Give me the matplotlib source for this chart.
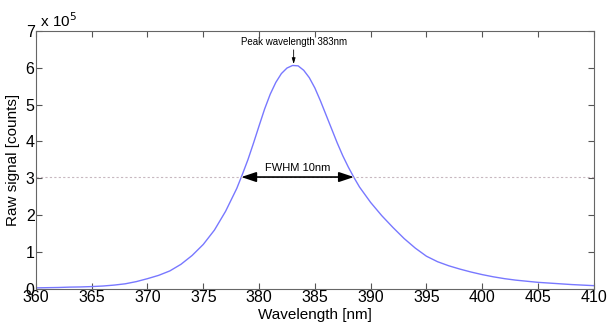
import matplotlib
matplotlib.use("Agg")
import matplotlib.pyplot as plt

plt.rcParams['font.family'] = ['Liberation Sans', 'DejaVu Sans']

wavelength = [360, 361, 362, 363, 364, 365, 366, 367, 368, 369,
              370, 371, 372, 373, 374, 375, 376, 377, 378, 378.5,
              379, 379.5, 380, 380.5, 381, 381.5, 382, 382.5, 383, 383.5,
              384, 384.5, 385, 385.5, 386, 386.5, 387, 387.5, 388, 388.5,
              389, 390, 391, 392, 393, 394, 395, 396, 397, 398, 399,
              400, 401, 402, 403, 404, 405, 406, 407, 408, 409, 410]
signal_e5 = [0.02, 0.025, 0.03, 0.04, 0.045, 0.055, 0.07, 0.095, 0.13, 0.19,
             0.27, 0.36, 0.48, 0.66, 0.90, 1.20, 1.59, 2.10, 2.72, 3.10,
             3.50, 3.95, 4.42, 4.88, 5.28, 5.60, 5.84, 5.99, 6.06, 6.05,
             5.93, 5.73, 5.45, 5.10, 4.72, 4.34, 3.96, 3.61, 3.30, 3.02,
             2.76, 2.34, 1.98, 1.66, 1.36, 1.10, 0.88, 0.73, 0.62, 0.53, 0.45,
             0.38, 0.32, 0.27, 0.23, 0.20, 0.17, 0.15, 0.13, 0.11, 0.095, 0.08]
half_max = 3.03
fwhm_left, fwhm_right = 378.4, 388.5
peak_x, peak_y = 383.1, 6.06
xticks = [360, 365, 370, 375, 380, 385, 390, 395, 400, 405, 410]
yticks = [0, 1, 2, 3, 4, 5, 6, 7]

fig = plt.figure(figsize=(6.09, 3.25), dpi=100)
ax = fig.add_axes([0.059, 0.112, 0.916, 0.793])

ax.plot(wavelength, signal_e5, color='#7878ff', lw=1.0)
ax.axhline(half_max, color='#c8b8c0', lw=0.8, ls=(0, (2, 2)))

ax.annotate('', xy=(fwhm_left, half_max), xytext=(fwhm_right, half_max),
            arrowprops=dict(arrowstyle='<|-|>,head_length=0.9,head_width=0.3',
                            color='black', lw=1.2, shrinkA=0, shrinkB=0))
ax.text((fwhm_left + fwhm_right) / 2, half_max + 0.12, 'FWHM 10nm',
        ha='center', va='bottom', fontsize=8)

ax.annotate('Peak wavelength 383nm', xy=(peak_x, peak_y + 0.04),
            xytext=(peak_x, peak_y + 0.5), ha='center', va='bottom', fontsize=7,
            arrowprops=dict(arrowstyle='-|>,head_length=0.5,head_width=0.15',
                            color='black', lw=0.6, shrinkA=0, shrinkB=0))

ax.set_xlim(360, 410)
ax.set_ylim(0, 7)
ax.set_xticks(xticks)
ax.set_yticks(yticks)
ax.tick_params(direction='in', top=True, right=True, labelsize=11.5,
               color='#555555', length=4, pad=1)
for s in ax.spines.values():
    s.set_color('#666666')
    s.set_linewidth(0.8)

ax.set_xlabel('Wavelength [nm]', fontsize=11, labelpad=2)
ax.set_ylabel('Raw signal [counts]', fontsize=11, labelpad=4)
ax.text(0.0, 1.005, ' x 10$^5$', transform=ax.transAxes, ha='left', va='bottom',
        fontsize=11)

fig.savefig('out.png', dpi=100)
